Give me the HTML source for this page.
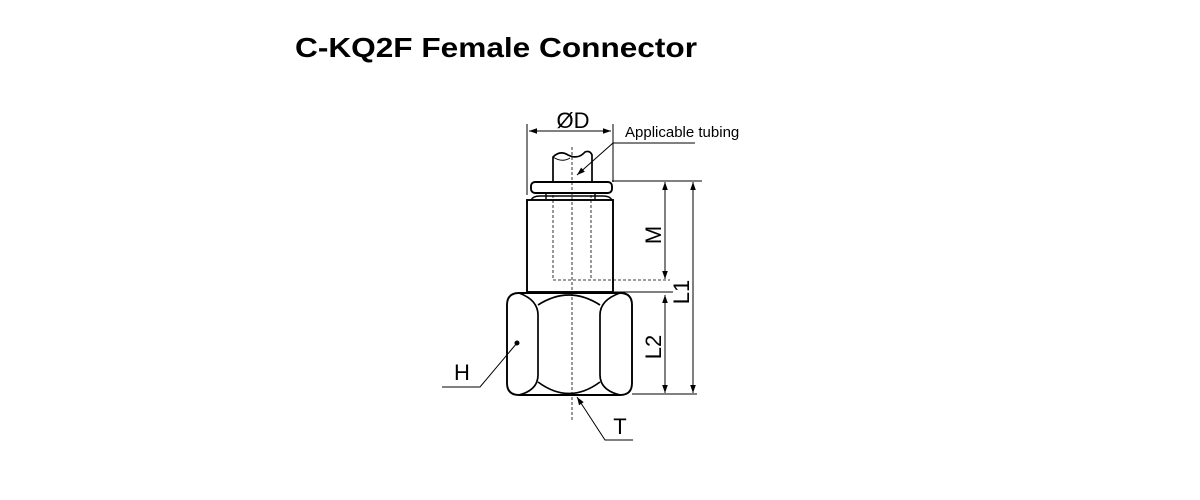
<!DOCTYPE html>
<html><head><meta charset="utf-8"><style>
html,body{margin:0;padding:0;background:#fff;width:1200px;height:500px;overflow:hidden}
svg{display:block}
</style></head><body>
<svg width="1200" height="500" viewBox="0 0 1200 500" xmlns="http://www.w3.org/2000/svg" font-family="Liberation Sans, Arial, sans-serif">
<defs>
<marker id="a" viewBox="0 0 10 10" refX="10" refY="5" markerWidth="9" markerHeight="8" orient="auto-start-reverse" markerUnits="userSpaceOnUse">
<path d="M0,1.5 L10,5 L0,8.5 z" fill="#000"/></marker>
</defs>
<text x="295" y="57" font-size="28" font-weight="bold" textLength="402" lengthAdjust="spacingAndGlyphs">C-KQ2F Female Connector</text>
<g stroke="#000" fill="none" stroke-width="1.4">
<line x1="527" y1="124" x2="527" y2="195" stroke-width="1"/>
<line x1="613" y1="124" x2="613" y2="182" stroke-width="1"/>
<line x1="529" y1="131" x2="611" y2="131" stroke-width="1" marker-start="url(#a)" marker-end="url(#a)"/>
<polyline points="695,143 613,143 577,175" stroke-width="1" marker-end="url(#a)"/>
<path d="M553,182 L553,157 Q560,150 568,155 Q578,160 585,152 Q590,150 592,155 L592,182" stroke-width="1.7"/>
<path d="M553,157 Q562,163 570,158" stroke-width="1"/>
<rect x="531" y="182" width="81" height="11" rx="4" stroke-width="1.9"/>
<line x1="546" y1="193" x2="546" y2="199"/>
<line x1="595" y1="193" x2="595" y2="199"/>
<path d="M531,200 Q533,196 540,196 L603,196 Q610,196 612,200" stroke-width="1.5"/>
<rect x="527" y="200" width="86" height="92" stroke-width="1.9"/>
<path d="M507,305 Q507,293 519,293 L620,293 Q632,293 632,305 L632,383 Q632,395 620,395 L519,395 Q507,395 507,383 Z" stroke-width="1.9"/>
<path d="M519,293 Q538,300 538,315 L538,375 Q538,390 519,395" stroke-width="1.7"/>
<path d="M620,293 Q600,300 600,315 L600,375 Q600,390 620,395" stroke-width="1.7"/>
<path d="M538,305 Q569,285 600,305" stroke-width="1.7"/>
<path d="M538,382 Q569,405 600,382" stroke-width="1.7"/>
<path d="M553,195 L553,280 L670,280" stroke-width="0.8" stroke-dasharray="3,2"/>
<path d="M591,195 L591,280" stroke-width="0.8" stroke-dasharray="3,2"/>
<line x1="572" y1="147" x2="572" y2="420" stroke-width="0.8" stroke-dasharray="3,2"/>
<line x1="612" y1="181" x2="702" y2="181" stroke-width="1"/>
<line x1="613" y1="292" x2="673" y2="292" stroke-width="1"/>
<line x1="632" y1="394" x2="697" y2="394" stroke-width="1"/>
<line x1="665" y1="182" x2="665" y2="279" stroke-width="1" marker-start="url(#a)" marker-end="url(#a)"/>
<line x1="693" y1="182" x2="693" y2="393" stroke-width="1" marker-start="url(#a)" marker-end="url(#a)"/>
<line x1="665" y1="295" x2="665" y2="393" stroke-width="1" marker-start="url(#a)" marker-end="url(#a)"/>
<polyline points="442,387 480,387 517,343" stroke-width="1"/>
<polyline points="633,440 605,440 577,397" stroke-width="1" marker-end="url(#a)"/>
</g>
<circle cx="517" cy="343" r="2.5" fill="#000"/>
<g font-size="22" fill="#000">
<text x="573" y="128" text-anchor="middle">ØD</text>
<text x="625" y="137" font-size="15">Applicable tubing</text>
<text transform="translate(661,235) rotate(-90)" text-anchor="middle">M</text>
<text transform="translate(689,292) rotate(-90)" text-anchor="middle">L1</text>
<text transform="translate(661,347) rotate(-90)" text-anchor="middle">L2</text>
<text x="462" y="380" text-anchor="middle">H</text>
<text x="620" y="434" text-anchor="middle">T</text>
</g>
</svg>
</body></html>
